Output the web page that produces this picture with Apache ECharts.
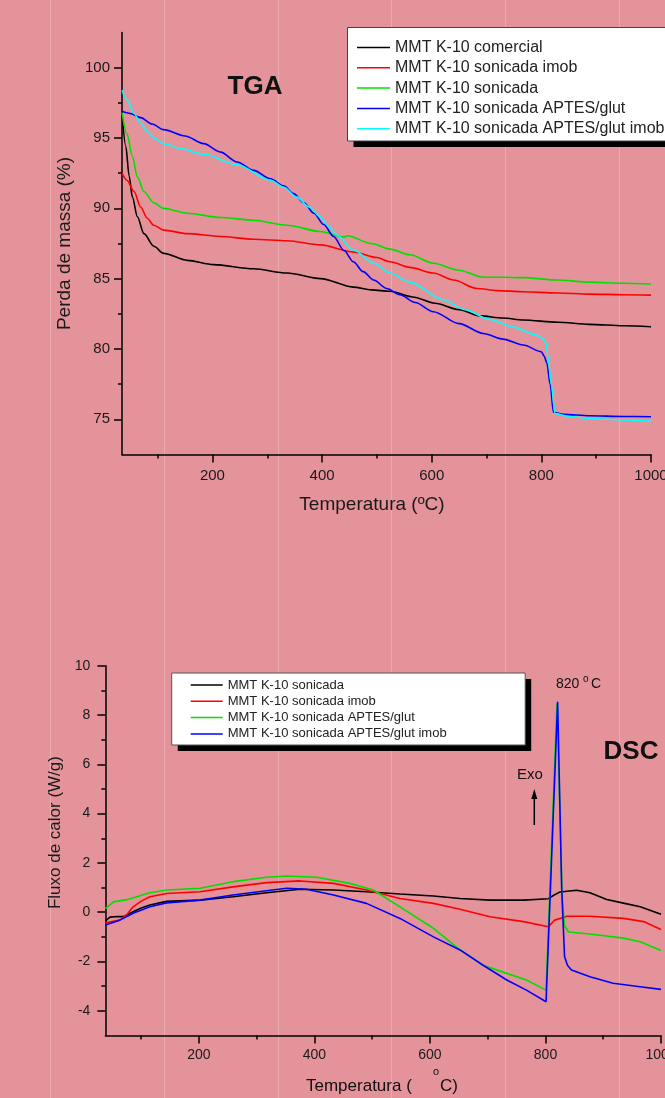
<!DOCTYPE html>
<html><head><meta charset="utf-8">
<script src="https://cdn.jsdelivr.net/npm/echarts@6/dist/echarts.min.js"></script>
<style>html,body{margin:0;padding:0;background:#E4939A}#c{width:665px;height:1098px}</style>
</head><body><div id="c"></div><script>
// ---------- TGA data: [temperature °C, mass %] ----------
const tgaNames = ['MMT K-10 comercial','MMT K-10 sonicada imob','MMT K-10 sonicada','MMT K-10 sonicada APTES/glut','MMT K-10 sonicada APTES/glut imob'];
const tgaColors = ['#000000','#ff0000','#00e000','#0000ff','#00ffff'];
const tgaComercial = [[35,96.8],[42,94.4],[48,92.3],[54,90.8],[63,89.4],[75,88.2],[93,87.3],[111,86.8],[154,86.3],[202,86.0],[275,85.7],[336,85.4],[397,85.0],[457,84.4],[490,84.2],[524,84.1],[565,83.7],[606,83.25],[650,82.8],[688,82.35],[730,82.2],[767,82.06],[830,81.9],[888,81.75],[950,81.65],[1000,81.58]];
const tgaImob = [[35,92.5],[44,92.0],[57,91.2],[69,90.1],[81,89.3],[93,88.8],[111,88.45],[154,88.2],[215,88.0],[275,87.8],[336,87.7],[397,87.4],[457,86.9],[500,86.5],[524,86.2],[560,85.8],[603,85.4],[640,84.9],[682,84.3],[720,84.15],[767,84.07],[830,83.98],[888,83.9],[950,83.86],[1000,83.83]];
const tgaSonicada = [[35,96.8],[44,95.3],[54,93.7],[63,92.25],[75,91.2],[93,90.4],[111,90.0],[154,89.65],[215,89.35],[275,89.15],[336,88.8],[397,88.35],[440,87.95],[446,88.05],[490,87.5],[524,87.1],[560,86.7],[603,86.1],[650,85.6],[694,85.1],[730,85.1],[767,85.07],[830,84.9],[888,84.75],[950,84.67],[1000,84.62]];
const tgaAptes = [[35,96.9],[50,96.75],[69,96.45],[90,96.0],[111,95.6],[150,95.15],[184,94.6],[215,94.0],[245,93.3],[275,92.7],[306,92.1],[330,91.6],[348,91.05],[367,90.4],[385,89.65],[403,88.85],[421,88.0],[440,87.0],[457,86.2],[475,85.5],[494,84.9],[518,84.3],[542,83.85],[570,83.3],[603,82.65],[650,81.8],[694,81.1],[730,80.7],[767,80.28],[800,79.8],[805,79.5],[810,79.0],[816,77.5],[822,75.5],[840,75.35],[888,75.25],[950,75.2],[1000,75.18]];
const tgaAptesImob = [[35,98.4],[44,97.7],[57,96.75],[69,96.05],[81,95.45],[93,95.0],[111,94.6],[142,94.25],[184,93.85],[245,93.1],[306,92.0],[330,91.5],[354,90.8],[376,90.1],[397,89.4],[412,88.7],[427,88.1],[457,87.05],[494,86.1],[524,85.4],[560,84.75],[621,83.5],[660,82.8],[706,82.1],[750,81.55],[790,81.0],[803,80.75],[808,80.5],[812,79.5],[818,77.5],[825,75.4],[850,75.2],[888,75.05],[950,74.95],[1000,74.87]];

// ---------- DSC data: [temperature °C, heat flow W/g] ----------
const dscNames = ['MMT K-10 sonicada','MMT K-10 sonicada imob','MMT K-10 sonicada APTES/glut','MMT K-10 sonicada APTES/glut imob'];
const dscColors = ['#000000','#ff0000','#00e000','#0000ff'];
const dscSonicada = [[38,-0.35],[46,-0.2],[58,-0.17],[69,-0.18],[86,0.02],[100,0.17],[115,0.29],[144,0.44],[202,0.49],[259,0.63],[317,0.79],[375,0.93],[433,0.9],[490,0.83],[548,0.74],[606,0.66],[652,0.56],[704,0.49],[762,0.49],[805,0.55],[815,0.7],[825,0.82],[854,0.89],[877,0.79],[906,0.52],[935,0.37],[964,0.22],[1000,-0.08]];
const dscImob = [[38,-0.43],[63,-0.32],[75,-0.1],[86,0.22],[100,0.45],[115,0.63],[144,0.76],[202,0.83],[259,1.03],[317,1.2],[375,1.27],[433,1.17],[490,0.9],[548,0.56],[606,0.36],[652,0.12],[704,-0.18],[762,-0.38],[805,-0.59],[816,-0.32],[837,-0.16],[877,-0.16],[935,-0.25],[970,-0.38],[1000,-0.7]];
const dscAptes = [[38,0.15],[52,0.42],[75,0.51],[95,0.65],[115,0.79],[144,0.9],[202,0.97],[259,1.24],[317,1.42],[352,1.47],[404,1.42],[461,1.17],[502,0.9],[548,0.22],[606,-0.65],[652,-1.53],[692,-2.15],[733,-2.48],[767,-2.75],[801,-3.16],[820,8.47],[829,0.5],[833,-0.55],[840,-0.8],[877,-0.88],[935,-1.05],[964,-1.2],[1000,-1.55]];
const dscAptesImob = [[38,-0.52],[63,-0.32],[86,-0.04],[115,0.22],[144,0.38],[202,0.49],[259,0.7],[317,0.87],[352,0.97],[386,0.93],[433,0.7],[490,0.36],[548,-0.25],[606,-1.0],[652,-1.53],[692,-2.15],[733,-2.75],[767,-3.16],[801,-3.63],[821,8.54],[828,1.0],[833,-1.8],[838,-2.15],[845,-2.34],[877,-2.62],[917,-2.88],[964,-3.02],[1000,-3.13]];

// ---------- tick values ----------
const tgaYMajor = [75,80,85,90,95,100];
const tgaYMinor = [77.5,82.5,87.5,92.5,97.5];
const xMajor = [200,400,600,800,1000];
const xMinor = [100,300,500,700,900];
const dscYMajor = [-4,-2,0,2,4,6,8,10];
const dscYMinor = [-3,-1,1,3,5,7,9];

const FONT = '"Liberation Sans", Arial, Helvetica, sans-serif';
const BLACK = '#000';
const axisLineStyle = {show:true, onZero:false, lineStyle:{color:BLACK, width:1.5}};
const plain = v => String(v);

function majorX(grid, min, fs, margin, extra){
  return Object.assign({type:'value', gridIndex:grid, min:min, max:1000, position:'bottom',
    axisLine:axisLineStyle, splitLine:{show:false},
    axisTick:{show:true, customValues:xMajor, length:8, lineStyle:{color:BLACK,width:1.5}},
    axisLabel:{customValues:xMajor, formatter:plain, fontSize:fs, color:'#1a1a1a', fontFamily:FONT, margin:margin}}, extra||{});
}
function minorX(grid, min){
  return {type:'value', gridIndex:grid, min:min, max:1000, position:'bottom',
    axisLine:{show:false, onZero:false}, splitLine:{show:false}, axisLabel:{show:false},
    axisTick:{show:true, customValues:xMinor, length:4, lineStyle:{color:BLACK,width:1.5}}};
}
function majorY(grid, min, max, vals, fs, margin, extra){
  return Object.assign({type:'value', gridIndex:grid, min:min, max:max, position:'left',
    axisLine:axisLineStyle, splitLine:{show:false},
    axisTick:{show:true, customValues:vals, length:8, lineStyle:{color:BLACK,width:1.5}},
    axisLabel:{customValues:vals, formatter:plain, fontSize:fs, color:'#1a1a1a', fontFamily:FONT, margin:margin}}, extra||{});
}
function minorY(grid, min, max, vals){
  return {type:'value', gridIndex:grid, min:min, max:max, position:'left',
    axisLine:{show:false, onZero:false}, splitLine:{show:false}, axisLabel:{show:false},
    axisTick:{show:true, customValues:vals, length:4, lineStyle:{color:BLACK,width:1.5}}};
}

const tgaData = [tgaComercial, tgaImob, tgaSonicada, tgaAptes, tgaAptesImob];
const dscData = [dscSonicada, dscImob, dscAptes, dscAptesImob];
const series = [];
tgaData.forEach((d,i)=>series.push({name:tgaNames[i], type:'line', xAxisIndex:0, yAxisIndex:0, data:d,
  showSymbol:false, smooth:0.3, smoothMonotone:'x', color:tgaColors[i], lineStyle:{width:1.6, color:tgaColors[i]}}));
dscData.forEach((d,i)=>series.push({name:'DSC:'+dscNames[i], type:'line', xAxisIndex:2, yAxisIndex:2, data:d,
  showSymbol:false, smooth:false, color:dscColors[i], lineStyle:{width:1.6, color:dscColors[i]}}));

const bgLines = [50,164,278,391,505,619].map(x=>({type:'line', z:0, silent:true,
  shape:{x1:x+0.5,y1:0,x2:x+0.5,y2:1098}, style:{stroke:'rgba(255,255,255,0.22)', lineWidth:1}}));
function txt(x,y,text,font,align){
  return {type:'text', x:x, y:y, z:10, silent:true,
    style:{text:text, font:font, fill:'#111', align:align||'left', verticalAlign:'middle', textAlign:align||'left', textVerticalAlign:'middle'}};
}
function legendBox(x,y,w,h,stroke){
  return [
    {type:'rect', z:1, silent:true, shape:{x:x+6,y:y+6,width:w,height:h}, style:{fill:'#000'}},
    {type:'rect', z:1, silent:true, shape:{x:x,y:y,width:w,height:h}, style:{fill:'#fff', stroke:stroke, lineWidth:1}}
  ];
}

const option = {
  animation:false,
  backgroundColor:'#E4939A',
  textStyle:{fontFamily:FONT},
  grid:[
    {left:122, top:32.6, width:529, height:421.8, outerBoundsMode:'none', containLabel:false},
    {left:105.4, top:665.7, width:555.6, height:369.8, outerBoundsMode:'none', containLabel:false}
  ],
  xAxis:[
    majorX(0, 35, 15, 14, {name:'Temperatura (ºC)', nameLocation:'middle', nameGap:41,
      nameTextStyle:{fontSize:19, color:'#1a1a1a', fontFamily:FONT, padding:[0,29,0,0]}}),
    minorX(0, 35),
    majorX(1, 38, 14, 13),
    minorX(1, 38)
  ],
  yAxis:[
    majorY(0, 72.5, 102.5, tgaYMajor, 15, 12, {name:'Perda de massa (%)', nameLocation:'middle', nameGap:48, nameRotate:90,
      nameTextStyle:{fontSize:19, color:'#1a1a1a', fontFamily:FONT}}),
    minorY(0, 72.5, 102.5, tgaYMinor),
    majorY(1, -5, 10, dscYMajor, 14, 15, {name:'Fluxo de calor (W/g)', nameLocation:'middle', nameGap:32, nameRotate:90,
      nameTextStyle:{fontSize:17, color:'#1a1a1a', fontFamily:FONT, padding:[0,0,0,36]}}),
    minorY(1, -5, 10, dscYMinor)
  ],
  legend:[
    {data:tgaNames, orient:'vertical', left:347, top:27.5, icon:'rect', itemWidth:33, itemHeight:1.5, itemGap:4.3,
     padding:[12,10,4,10], backgroundColor:'transparent', borderWidth:0,
     textStyle:{fontSize:16, color:'#222', fontFamily:FONT}, selectedMode:false},
    {data:dscNames.map(n=>'DSC:'+n), orient:'vertical', left:171.7, top:673, icon:'rect', itemWidth:32, itemHeight:1.5, itemGap:3.3,
     padding:[5.5,77,4.5,19], backgroundColor:'transparent', borderWidth:0,
     formatter:n=>n.slice(4),
     textStyle:{fontSize:13, color:'#222', fontFamily:FONT}, selectedMode:false}
  ],
  graphic:{elements:[].concat(bgLines,
    legendBox(347.5,27.5,340,113.5,'#444'),
    legendBox(171.7,673,353.5,72,'#555'),
    [
    txt(255,87,'TGA','bold 26px '+FONT,'center'),
    txt(631,752,'DSC','bold 26px '+FONT,'center'),
    txt(556,684.5,'820','14px '+FONT,'left'),
    txt(583,679,'o','10px '+FONT,'left'),
    txt(591,684.5,'C','14px '+FONT,'left'),
    txt(530,775,'Exo','15px '+FONT,'center'),
    {type:'line', z:10, silent:true, shape:{x1:534.3,y1:825,x2:534.3,y2:796}, style:{stroke:'#000', lineWidth:1.5}},
    {type:'polygon', z:10, silent:true, shape:{points:[[534.3,789],[531.3,799],[537.3,799]]}, style:{fill:'#000'}},
    txt(306,1086,'Temperatura (','17px '+FONT,'left'),
    txt(433,1072,'o','11px '+FONT,'left'),
    txt(440,1086,'C)','17px '+FONT,'left')
  ])},
  series:series
};
const chart = echarts.init(document.getElementById('c'), null, {renderer:'canvas'});
chart.setOption(option);
</script></body></html>
